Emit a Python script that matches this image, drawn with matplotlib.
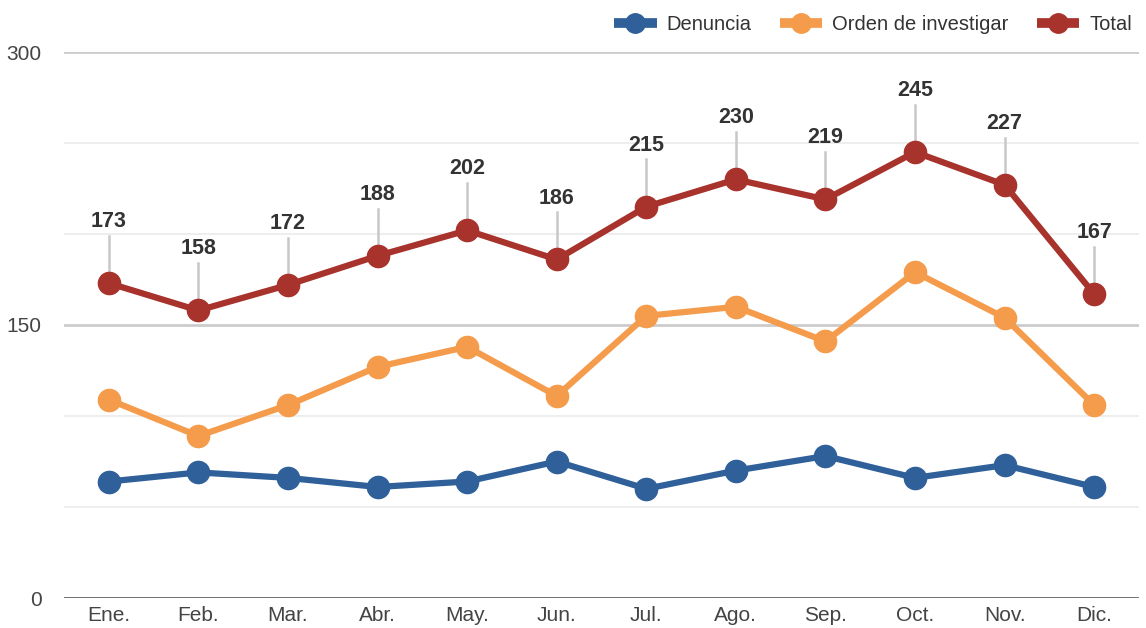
import matplotlib.pyplot as plt

plt.rcParams["font.family"] = ["Liberation Sans", "DejaVu Sans"]

months = ["Ene.", "Feb.", "Mar.", "Abr.", "May.", "Jun.", "Jul.", "Ago.", "Sep.", "Oct.", "Nov.", "Dic."]
denuncia = [64, 69, 66, 61, 64, 75, 60, 70, 78, 66, 73, 61]
orden = [109, 89, 106, 127, 138, 111, 155, 160, 141, 179, 154, 106]
total = [173, 158, 172, 188, 202, 186, 215, 230, 219, 245, 227, 167]

series = [
    ("Denuncia", denuncia, "#2f6099"),
    ("Orden de investigar", orden, "#f59c4c"),
    ("Total", total, "#a8322c"),
]

fig = plt.figure(figsize=(11.46, 6.28), dpi=100)
ax = fig.add_axes([64 / 1146, 1 - 598 / 628, (1139 - 64) / 1146, (598 - 52) / 628])

x = list(range(len(months)))

# gridlines
for v in [50, 100, 200, 250]:
    ax.axhline(v, color="#ebebeb", lw=1.2, zorder=0)
for v in [150, 300]:
    ax.axhline(v, color="#cccccc", lw=2, zorder=0)
ax.axhline(0, color="#666666", lw=2, zorder=1)

# stems and labels for total
for xi, v in zip(x, total):
    ax.plot([xi, xi], [v, v + 26], color="#c8c8c8", lw=1.8, zorder=2)
    ax.text(xi, v + 28, str(v), ha="center", va="bottom",
            fontsize=15.5, fontweight="bold", color="#333333", zorder=5)

for name, vals, color in series:
    ax.plot(x, vals, color=color, lw=4.5, marker="o", markersize=16,
            label=name, zorder=3, solid_capstyle="round")

ax.set_xlim(-0.5, len(months) - 0.5)
ax.set_ylim(0, 300)
ax.set_xticks(x)
ax.set_xticklabels(months)
ax.set_yticks([0, 150, 300])
for s in ax.spines.values():
    s.set_visible(False)
ax.tick_params(axis="both", length=0, labelsize=15, colors="#444444")
ax.tick_params(axis="x", pad=6)
ax.tick_params(axis="y", pad=16)

leg = fig.legend(loc="upper right", bbox_to_anchor=(1.0, 0.998), ncol=3, frameon=False,
                 fontsize=14.5, handlelength=2.1, handletextpad=0.5, columnspacing=1.4,
                 borderaxespad=0.3, labelcolor="#333333")
for h in leg.legend_handles:
    h.set_markersize(14)
    h.set_linewidth(7)
    h.set_solid_capstyle("butt")

fig.savefig("out.png", dpi=100)
